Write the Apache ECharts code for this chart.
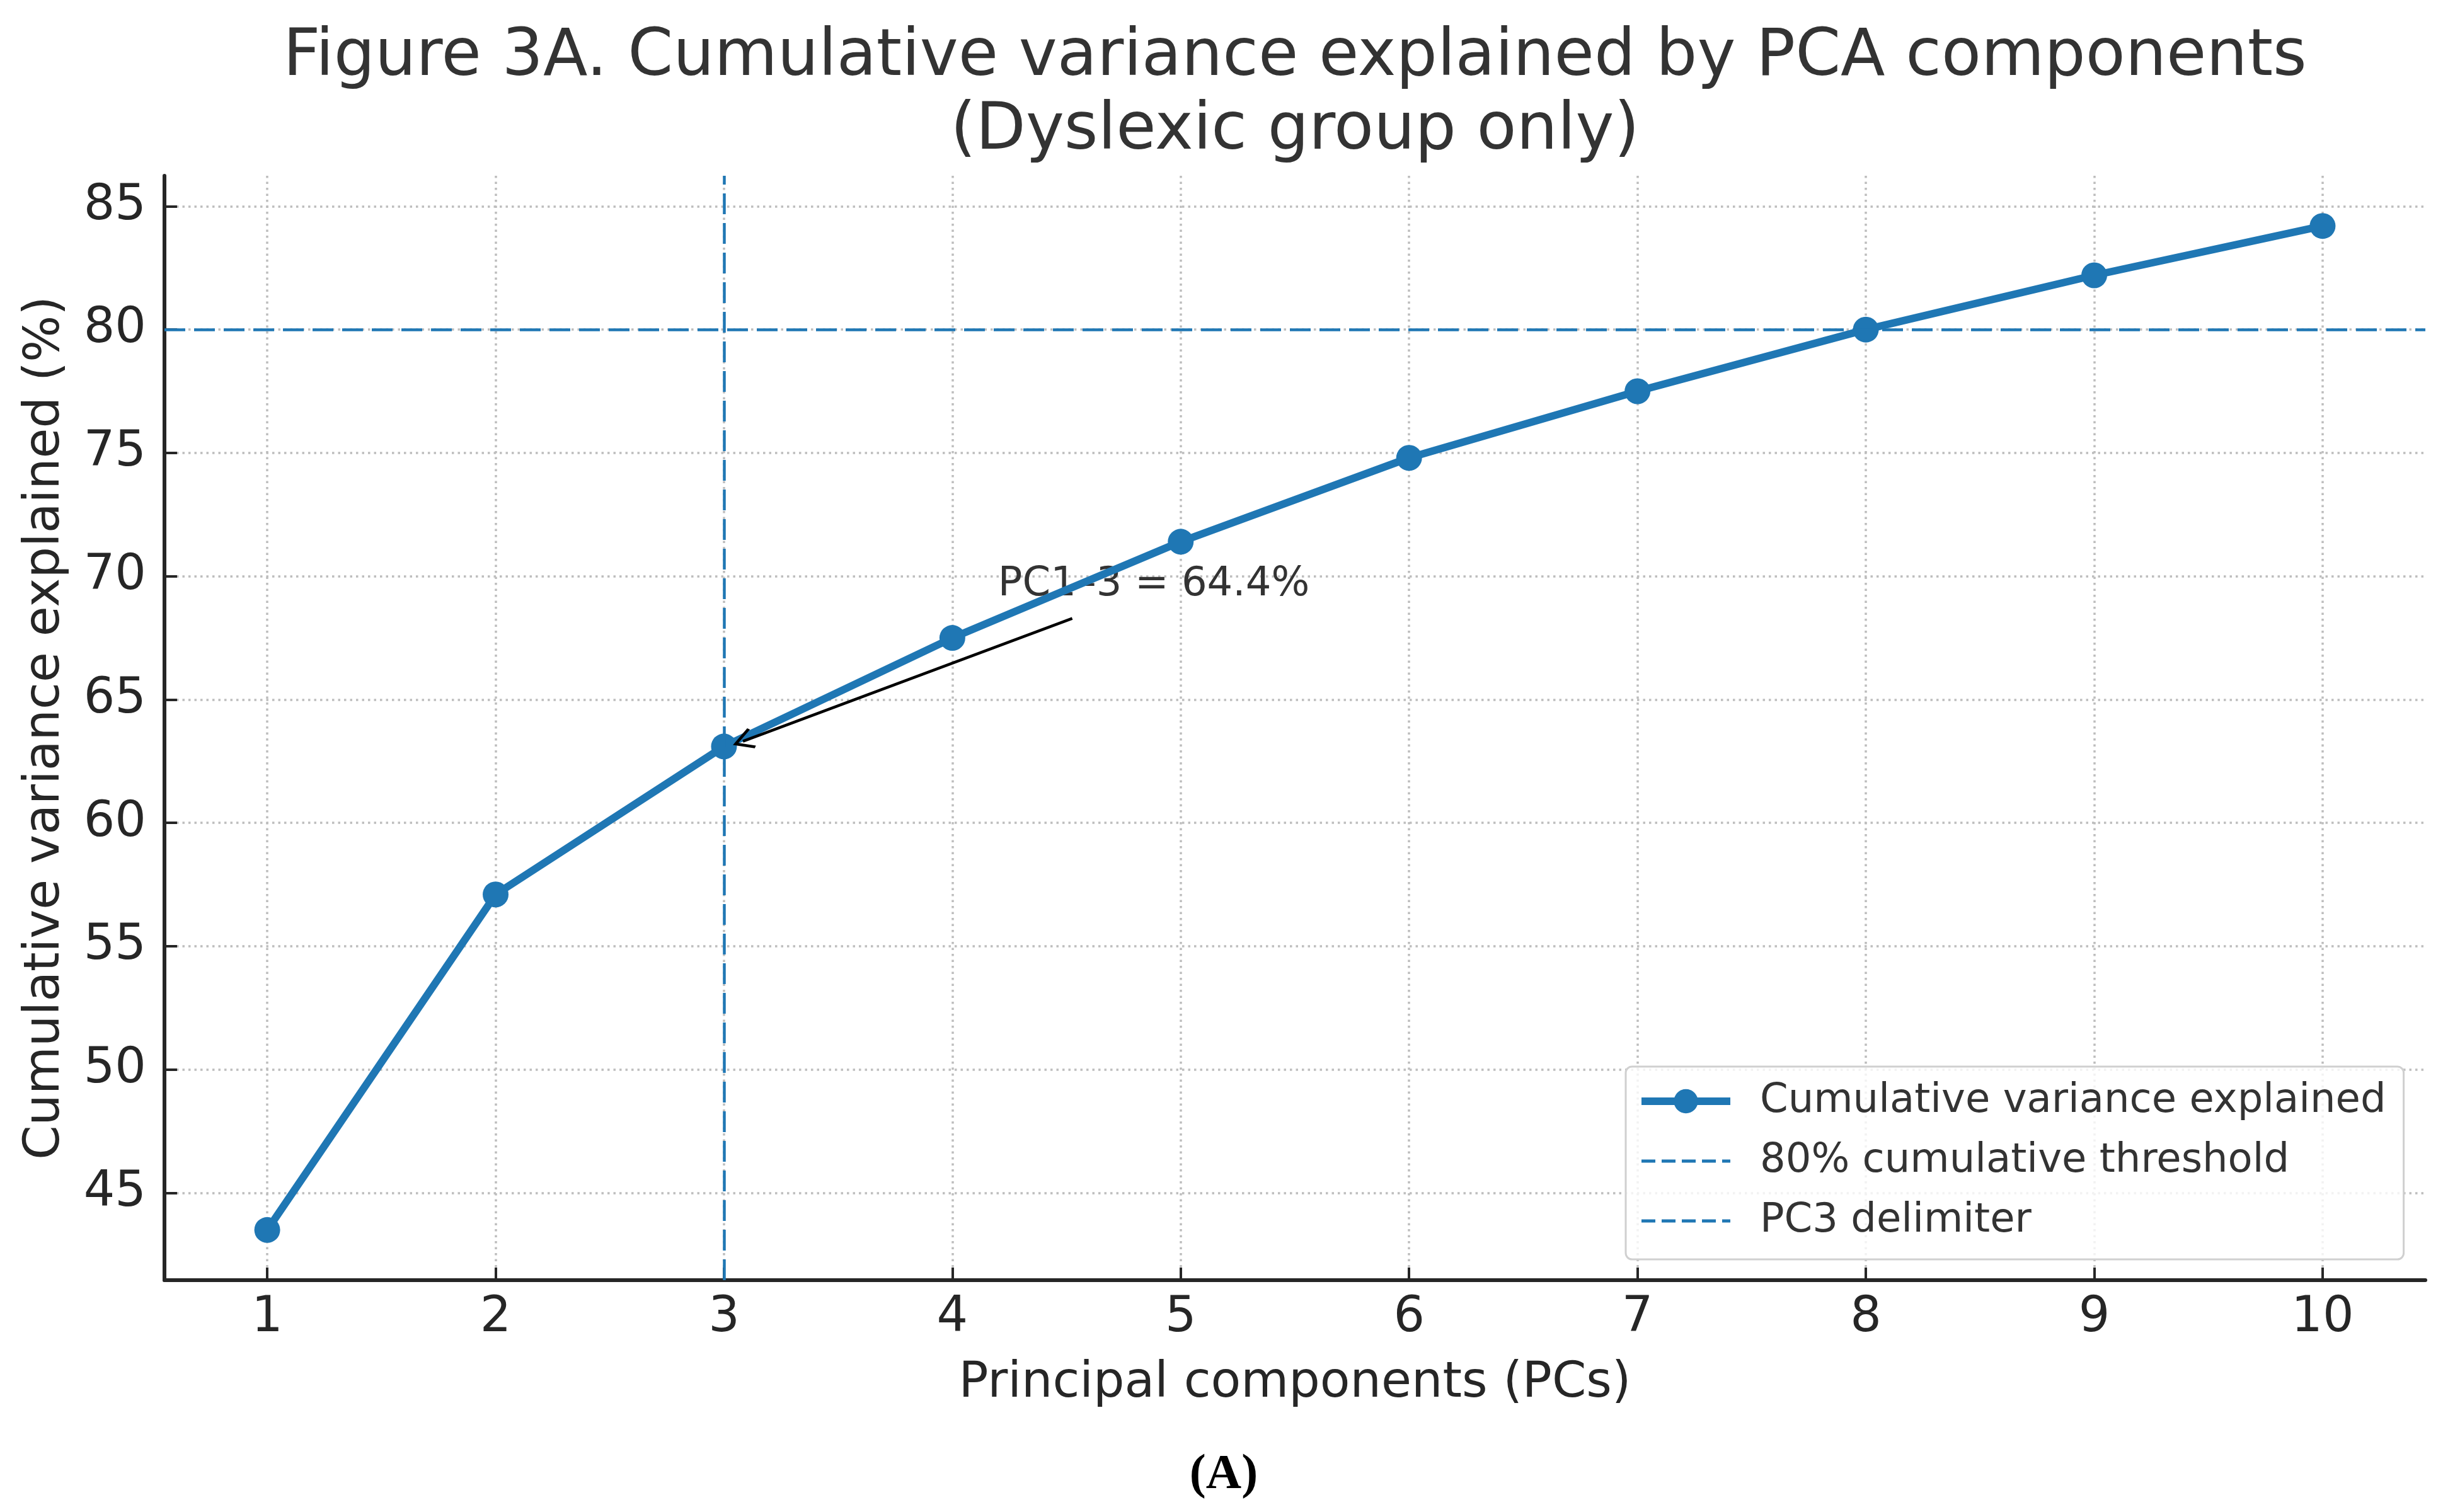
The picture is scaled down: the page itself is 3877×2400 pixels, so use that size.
<!DOCTYPE html>
<html>
<head>
<meta charset="utf-8">
<script src="https://cdn.jsdelivr.net/npm/echarts@6/dist/echarts.min.js"></script>
<style>
  html, body { margin: 0; padding: 0; background: #fff; }
  #chart { width: 3877px; height: 2400px; }
</style>
</head>
<body>
<div id="chart"></div>
<script>
// values
var PCS = [1, 2, 3, 4, 5, 6, 7, 8, 9, 10];
var CUM_VAR = [43.5, 57.1, 63.1, 67.5, 71.4, 74.8, 77.5, 80.0, 82.2, 84.2];
var X_TICKS = [1, 2, 3, 4, 5, 6, 7, 8, 9, 10];
var Y_TICKS = [45, 50, 55, 60, 65, 70, 75, 80, 85];
var THRESHOLD = 80;
var DELIM_PC = 3;
var ANNOT_TEXT = 'PC1–3 = 64.4%';
var ANNOT_POS = [4.2, 69.64];
var ARROW_FROM = [4.525, 68.29];
var ARROW_TO = [3.083, 63.31];
var SERIES_NAMES = ['Cumulative variance explained', '80% cumulative threshold', 'PC3 delimiter'];

var BLUE = '#1f77b4';
var FONT = 'DejaVu Sans';

var chart = echarts.init(document.getElementById('chart'));

// matplotlib style 5% margins
var xPad = (Math.max.apply(null, PCS) - Math.min.apply(null, PCS)) * 0.05;
var yPad = (Math.max.apply(null, CUM_VAR) - Math.min.apply(null, CUM_VAR)) * 0.05;

var points = PCS.map(function (pc, i) { return [pc, CUM_VAR[i]]; });

var axisCommon = {
    type: 'value',
    axisLine: { show: true, lineStyle: { color: '#262626', width: 6 } },
    axisTick: { show: true, inside: true, length: 20, lineStyle: { color: '#262626', width: 4 } },
    splitLine: { show: true, lineStyle: { color: '#bdbdbd', width: 3.5, type: [3.5, 6] } },
    nameLocation: 'middle',
    nameTextStyle: { fontFamily: FONT, fontSize: 78, color: '#262626' }
};

var dashedLegendItem = function (name) {
    return {
        name: name,
        itemStyle: { color: 'rgba(0,0,0,0)', opacity: 0 },
        lineStyle: { color: BLUE, width: 5, type: [22, 10] }
    };
};

var option = {
    animation: false,
    backgroundColor: '#fff',
    title: [{
        text: 'Figure 3A. Cumulative variance explained by PCA components\n(Dyslexic group only)',
        left: 2050,
        top: 29,
        textAlign: 'center',
        textStyle: { fontFamily: FONT, fontSize: 103, lineHeight: 117, fontWeight: 'normal', color: '#333' }
    }, {
        text: '(A)',
        left: 1937,
        top: 2298,
        textAlign: 'center',
        textStyle: { fontFamily: 'Liberation Serif', fontSize: 78, lineHeight: 78, fontWeight: 'bold', color: '#000' }
    }],
    grid: { left: 261, right: 28, top: 279, bottom: 368, containLabel: false },
    legend: {
        orient: 'vertical',
        left: 2580,
        top: 1693,
        padding: [23, 28, 29, 19],
        itemGap: 31,
        itemWidth: 141,
        itemHeight: 48,
        backgroundColor: 'rgba(255,255,255,0.8)',
        borderColor: '#d0d0d0',
        borderWidth: 3,
        borderRadius: 10,
        textStyle: { fontFamily: FONT, fontSize: 64, lineHeight: 64, color: '#333', padding: [0, 0, 0, 42] },
        data: [
            { name: SERIES_NAMES[0], lineStyle: { width: 12, type: 'solid' } },
            dashedLegendItem(SERIES_NAMES[1]),
            dashedLegendItem(SERIES_NAMES[2])
        ]
    },
    xAxis: echarts.util.merge({
        min: Math.min.apply(null, PCS) - xPad,
        max: Math.max.apply(null, PCS) + xPad,
        name: 'Principal components (PCs)',
        nameGap: 126,
        axisTick: { customValues: X_TICKS },
        axisLabel: { customValues: X_TICKS, margin: 22, fontFamily: FONT, fontSize: 78, color: '#262626' }
    }, axisCommon),
    yAxis: echarts.util.merge({
        min: Math.min.apply(null, CUM_VAR) - yPad,
        max: Math.max.apply(null, CUM_VAR) + yPad,
        name: 'Cumulative variance explained (%)',
        nameGap: 149,
        nameRotate: 90,
        axisTick: { customValues: Y_TICKS },
        axisLabel: { customValues: Y_TICKS, margin: 29, fontFamily: FONT, fontSize: 78, color: '#262626' }
    }, axisCommon),
    series: [{
        name: 'annotation',
        type: 'line',
        data: [],
        z: 1,
        markPoint: {
            z: 1,
            silent: true,
            symbol: 'circle',
            symbolSize: 0,
            data: [{ coord: ANNOT_POS, value: 0 }],
            label: {
                show: true,
                position: 'right',
                distance: 0,
                formatter: ANNOT_TEXT,
                fontFamily: FONT,
                fontSize: 64,
                color: '#333'
            }
        }
    }, {
        name: SERIES_NAMES[1],
        type: 'line',
        data: [],
        z: 2,
        symbol: 'none',
        symbolSize: 0,
        lineStyle: { color: BLUE, width: 4.5, type: [33, 14] },
        itemStyle: { color: BLUE },
        markLine: {
            silent: true,
            symbol: 'none',
            animation: false,
            label: { show: false },
            lineStyle: { color: BLUE, width: 4.5, type: [33, 14] },
            data: [{ yAxis: THRESHOLD }]
        }
    }, {
        name: SERIES_NAMES[2],
        type: 'line',
        data: [],
        z: 2,
        symbol: 'none',
        symbolSize: 0,
        lineStyle: { color: BLUE, width: 4.5, type: [33, 14] },
        itemStyle: { color: BLUE },
        markLine: {
            silent: true,
            symbol: 'none',
            animation: false,
            label: { show: false },
            lineStyle: { color: BLUE, width: 4.5, type: [33, 14] },
            data: [{ xAxis: DELIM_PC }]
        }
    }, {
        name: SERIES_NAMES[0],
        type: 'line',
        data: points,
        z: 3,
        symbol: 'circle',
        symbolSize: 41,
        lineStyle: { color: BLUE, width: 12 },
        itemStyle: { color: BLUE },
        markLine: {
            z: 5,
            silent: true,
            animation: false,
            symbol: ['none', 'path://M50,0 L100,72 L90,80 L50,22 L10,80 L0,72 Z'],
            symbolSize: 34,
            symbolKeepAspect: false,
            label: { show: false },
            lineStyle: { color: '#000', width: 4.5, type: 'solid' },
            itemStyle: { color: '#000' },
            data: [[{ coord: ARROW_FROM }, { coord: ARROW_TO }]]
        }
    }]
};

chart.setOption(option);
</script>
</body>
</html>
